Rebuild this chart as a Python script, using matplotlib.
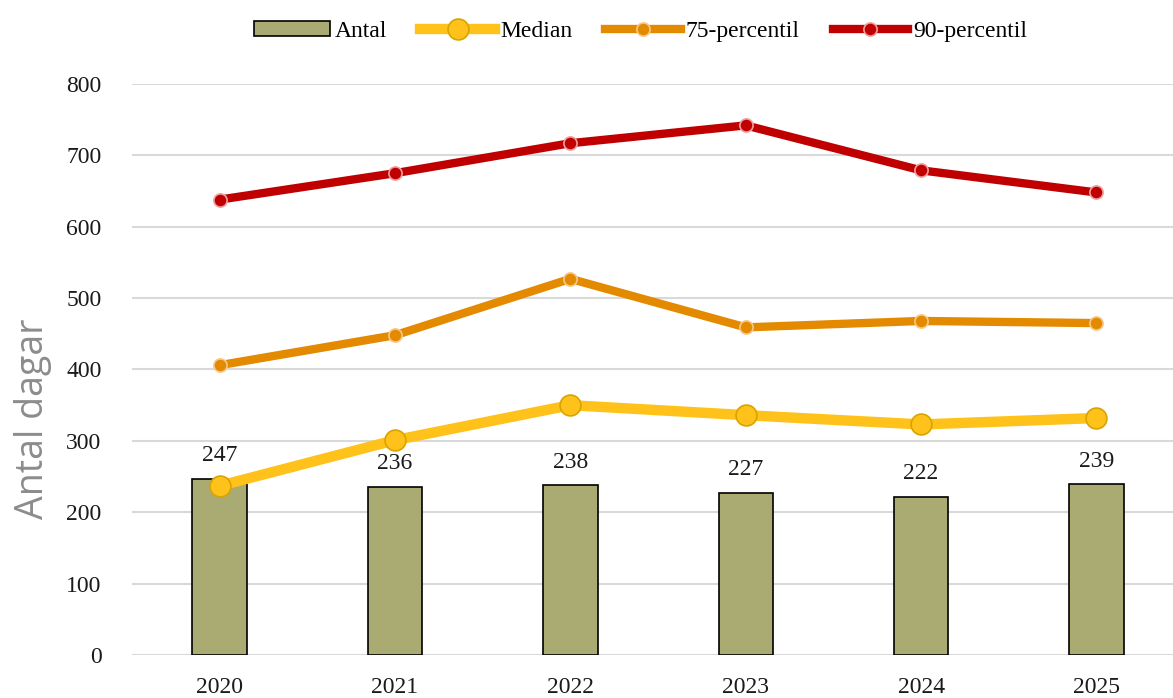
import matplotlib.pyplot as plt
import numpy as np

years = ["2020", "2021", "2022", "2023", "2024", "2025"]
antal = [247, 236, 238, 227, 222, 239]
median = [237, 301, 350, 336, 323, 332]
p75 = [406, 448, 527, 459, 468, 465]
p90 = [638, 675, 717, 742, 679, 648]

serif = "Liberation Serif"

fig = plt.figure(figsize=(11.73, 6.98), dpi=100)
ax = fig.add_axes([0.1125, 0.0616, 0.897, 0.8181])

x = np.arange(len(years))
bars = ax.bar(x, antal, width=0.31, color="#A9AB73", edgecolor="black",
              linewidth=1.2, label="Antal", zorder=2)
for xi, v in zip(x, antal):
    ax.annotate(str(v), (xi, v), xytext=(0, 9), textcoords="offset points",
                ha="center", va="bottom", fontsize=17, family=serif, color="#1a1a1a")

ax.plot(x, median, color="#FFC21A", lw=7.5, marker="o", markersize=15,
        markerfacecolor="#FFC21A", markeredgecolor="#D9A300", markeredgewidth=1.2,
        label="Median", zorder=3)
ax.plot(x, p75, color="#E38A00", lw=6, marker="o", markersize=9.5,
        markerfacecolor="#E38A00", markeredgecolor="#F7C98A", markeredgewidth=1.2,
        label="75-percentil", zorder=3)
ax.plot(x, p90, color="#C00000", lw=6, marker="o", markersize=9.5,
        markerfacecolor="#C00000", markeredgecolor="#F0A0A0", markeredgewidth=1.2,
        label="90-percentil", zorder=3)

ax.set_xlim(-0.5, 5.5)
ax.set_ylim(0, 800)
ax.set_yticks(range(0, 801, 100))
ax.set_xticks(x)
ax.set_xticklabels(years)
ax.grid(axis="y", color="#d9d9d9", lw=1.5, zorder=0)
ax.set_axisbelow(True)
for s in ax.spines.values():
    s.set_visible(False)
ax.tick_params(axis="both", length=0, labelsize=17)
ax.tick_params(axis="x", pad=16)
ax.tick_params(axis="y", pad=22)
for lab in ax.get_xticklabels() + ax.get_yticklabels():
    lab.set_family(serif)
    lab.set_color("#1a1a1a")

fig.text(0.028, 0.40, "Antal dagar", rotation=90, ha="center", va="center",
         fontsize=27, family="Open Sans", color="#8c8c8c")

handles, labels = ax.get_legend_handles_labels()
order = [labels.index(n) for n in ["Antal", "Median", "75-percentil", "90-percentil"]]
leg = fig.legend([handles[i] for i in order], [labels[i] for i in order],
                 loc="upper center", bbox_to_anchor=(0.546, 1.0), ncol=4,
                 frameon=False, prop={"family": serif, "size": 17},
                 handlelength=3.2, handleheight=0.6, handletextpad=0.2,
                 columnspacing=1.4)

fig.savefig("out.png", dpi=100)
